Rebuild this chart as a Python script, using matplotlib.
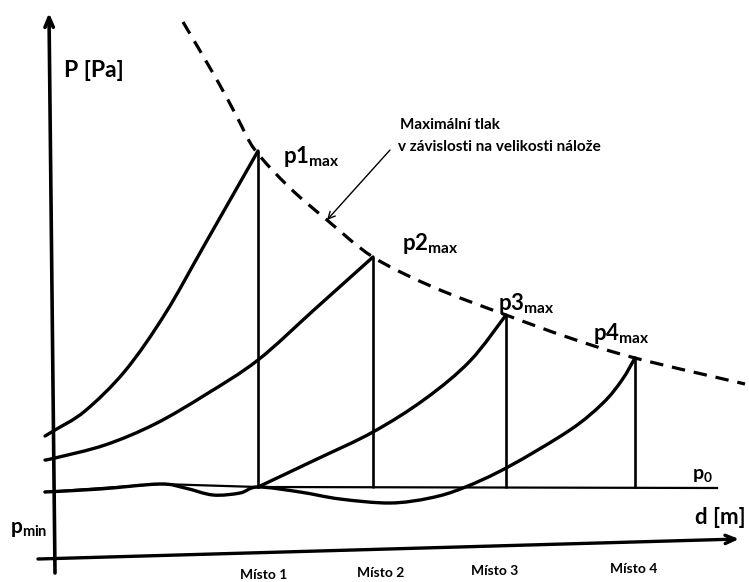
import numpy as np
import matplotlib
matplotlib.use("Agg")
import matplotlib.pyplot as plt
from matplotlib.path import Path
from matplotlib.patches import PathPatch

plt.rcParams["font.family"] = ["Lato", "DejaVu Sans"]
plt.rcParams["mathtext.fontset"] = "custom"
plt.rcParams["mathtext.rm"] = "Lato"
plt.rcParams["mathtext.it"] = "Lato"
plt.rcParams["mathtext.bf"] = "Lato:bold"

# schematic: d (distance) vs P (pressure), p0 = 0
places = ["Místo 1", "Místo 2", "Místo 3", "Místo 4"]
place_d = [2.03, 3.18, 4.51, 5.80]
peak_p = [3.38, 2.32, 1.74, 1.31]
peak_labels = ["p1", "p2", "p3", "p4"]

# envelope of maximum pressure (dashed)
env_d = [1.28, 1.62, 1.82, 2.00, 2.35, 2.72, 3.18, 3.78, 4.51, 5.15, 5.80, 6.90]
env_p = [4.67, 4.09, 3.72, 3.39, 3.01, 2.69, 2.32, 2.02, 1.74, 1.51, 1.31, 1.05]

# pressure curves for the four charges
c1_d = [-0.10, 0.00, 0.30, 0.70, 1.10, 1.50, 2.03]
c1_p = [0.53, 0.59, 0.78, 1.18, 1.75, 2.45, 3.38]

c2_d = [-0.10, 0.00, 0.50, 1.00, 1.50, 2.03, 2.60, 3.18]
c2_p = [0.29, 0.31, 0.44, 0.65, 0.94, 1.29, 1.80, 2.32]

c3_d = [2.03, 2.60, 3.18, 3.70, 4.15, 4.51]
c3_p = [0.02, 0.29, 0.57, 0.90, 1.28, 1.74]

c4_d = [-0.10, 0.45, 1.05, 1.30, 1.58, 1.85, 2.03, 2.45, 2.85, 3.35,
        3.75, 4.08, 4.53, 5.15, 5.48, 5.67, 5.80]
c4_p = [-0.03, 0.00, 0.05, 0.01, -0.06, -0.04, 0.02, -0.03, -0.10,
        -0.14, -0.09, 0.01, 0.22, 0.59, 0.86, 1.09, 1.31]

# p0 line (slightly skewed in the scan)
base_d = [-0.10, 1.05, 2.03, 6.62]
base_p = [-0.03, 0.05, 0.02, 0.01]


def smooth(ax, xs, ys, **kw):
    # Catmull-Rom through the points, drawn as cubic Bezier segments
    pts = np.column_stack([xs, ys])
    verts = [pts[0]]
    codes = [Path.MOVETO]
    for i in range(len(pts) - 1):
        p0 = pts[i - 1] if i > 0 else pts[i]
        p1 = pts[i]
        p2 = pts[i + 1]
        p3 = pts[i + 2] if i + 2 < len(pts) else pts[i + 1]
        verts += [p1 + (p2 - p0) / 6, p2 - (p3 - p1) / 6, p2]
        codes += [Path.CURVE4] * 3
    ax.add_patch(PathPatch(Path(verts, codes), fill=False, **kw))


fig = plt.figure(figsize=(7.49, 5.82), dpi=100)
ax = fig.add_axes([0, 0, 1, 1])
ax.set_xlim(-0.55, 6.94)
ax.set_ylim(-0.93, 4.89)
ax.axis("off")

lw = 2.4
for xs, ys in [(c1_d, c1_p), (c2_d, c2_p), (c3_d, c3_p), (c4_d, c4_p)]:
    smooth(ax, xs, ys, color="k", lw=lw, capstyle="round")
smooth(ax, env_d, env_p, color="k", lw=2.3, linestyle=(0, (4.2, 2.8)))

# verticals at the measuring places
ax.vlines(place_d, 0.01, peak_p, color="k", lw=1.9)

ax.plot(base_d, base_p, color="k", lw=1.6)

# axes arrows
ax.annotate("", xy=(-0.06, 4.76), xytext=(0.0, -0.84),
            arrowprops=dict(arrowstyle="->,head_length=0.7,head_width=0.3",
                            lw=2.6, color="k", shrinkA=0, shrinkB=0))
ax.annotate("", xy=(6.84, -0.50), xytext=(-0.17, -0.70),
            arrowprops=dict(arrowstyle="->,head_length=0.7,head_width=0.3",
                            lw=2.4, color="k", shrinkA=0, shrinkB=0))

ax.text(0.09, 4.18, "P [Pa]", fontsize=16.5, ha="left", va="center",
        fontweight="bold")
ax.text(6.40, -0.29, "d [m]", fontsize=16, ha="left", va="center",
        fontweight="bold")
ax.text(-0.45, -0.40, r"$\mathbf{p}_{\mathbf{min}}$", fontsize=15,
        ha="left", va="center")
ax.text(6.37, 0.10, r"$\mathbf{p}_{\mathbf{0}}$", fontsize=14,
        ha="left", va="baseline")

lab_d = [2.28, 3.47, 4.43, 5.38]
lab_p = [3.26, 2.39, 1.79, 1.49]
for name, x, y in zip(peak_labels, lab_d, lab_p):
    ax.text(x, y, r"$\mathbf{%s}_{\mathbf{max}}$" % name, fontsize=16,
            ha="left", va="baseline")

place_y = [-0.86, -0.84, -0.82, -0.80]
for name, x, y in zip(places, [2.09, 3.26, 4.40, 5.79], place_y):
    ax.text(x, y, name, fontsize=10, ha="center", va="center",
            fontweight="bold")

ax.text(3.45, 3.64, "Maximální tlak", fontsize=11, ha="left", va="center",
        fontweight="bold")
ax.text(3.43, 3.42, "v závislosti na velikosti nálože", fontsize=11,
        ha="left", va="center", fontweight="bold")
ax.annotate("", xy=(2.72, 2.69), xytext=(3.35, 3.39),
            arrowprops=dict(arrowstyle="->,head_length=0.5,head_width=0.25",
                            lw=1.0, color="k", shrinkA=0, shrinkB=0))

fig.savefig("out.png", dpi=100)
